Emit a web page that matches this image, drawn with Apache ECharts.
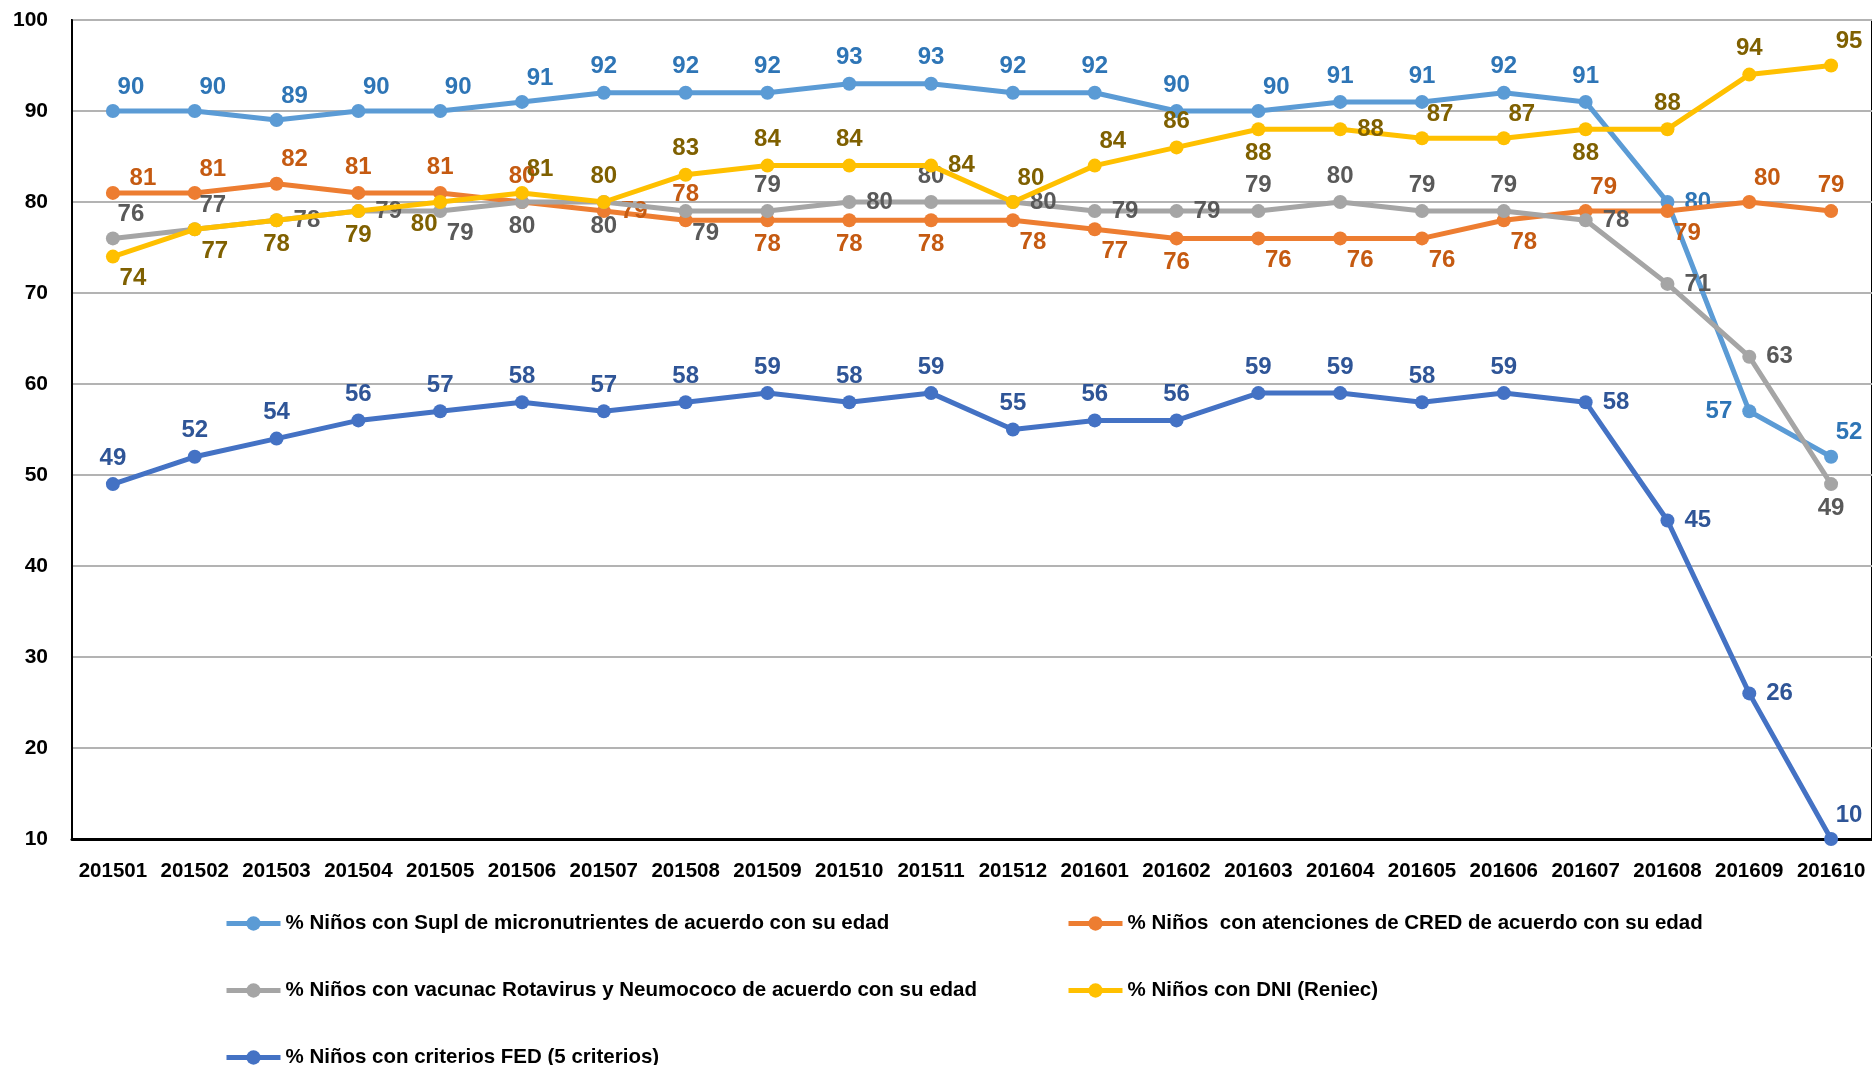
<!DOCTYPE html>
<html>
<head>
<meta charset="utf-8">
<script src="https://cdn.jsdelivr.net/npm/echarts@6/dist/echarts.min.js"></script>
<style>
html,body{margin:0;padding:0;background:#fff;}
#chart{width:1872px;height:1065px;}
</style>
</head>
<body>
<div id="chart"></div>
<script>
const categories = ['201501','201502','201503','201504','201505','201506','201507','201508','201509','201510','201511','201512','201601','201602','201603','201604','201605','201606','201607','201608','201609','201610'];
const seriesNames = [
  '% Niños con Supl de micronutrientes de acuerdo con su edad',
  '% Niños  con atenciones de CRED de acuerdo con su edad',
  '% Niños con vacunac Rotavirus y Neumococo de acuerdo con su edad',
  '% Niños con DNI (Reniec)',
  '% Niños con criterios FED (5 criterios)'
];
const supl    = [90,90,89,90,90,91,92,92,92,93,93,92,92,90,90,91,91,92,91,80,57,52];
const cred    = [81,81,82,81,81,80,79,78,78,78,78,78,77,76,76,76,76,78,79,79,80,79];
const vacunas = [76,77,78,79,79,80,80,79,79,80,80,80,79,79,79,80,79,79,78,71,63,49];
const dni     = [74,77,78,79,80,81,80,83,84,84,84,80,84,86,88,88,87,87,88,88,94,95];
const fed     = [49,52,54,56,57,58,57,58,59,58,59,55,56,56,59,59,58,59,58,45,26,10];
const yMin = 10, yMax = 100, yStep = 10;

// label placement codes (layout only)
const suplPos = ['tr','tr','tr','tr','tr','tr','t','t','t','t','t','t','t','t','tr','t','t','t','t','r','l','tr'];
const credPos = ['TR','tr','tr','t','t','t','r','t','b','b','b','br','br','b','br','br','br','br','tr','br','tr','t'];
const vacPos  = ['tr','tr','r','r','br','b','b','br','t','r','t','r','r','r','t','t','t','t','r','r','r','b'];
const dniPos  = ['br','br','b','b','bl','tr','t','t','t','t','r','tr','tr','t','b','r','tr','tr','b','t','t','tr'];
const fedPos  = ['t','t','t','t','t','t','t','t','t','t','t','t','t','t','t','t','t','t','r','r','r','tr'];

const FONT = "'Liberation Sans',Arial,sans-serif";
const place = {
  t:  {position:'top', distance:7},
  tr: {position:'top', distance:5, offset:[18,0]},
  TR: {position:'top', distance:0, offset:[30,4]},
  r:  {position:'right', distance:10},
  br: {position:'bottom', distance:3, offset:[20,0]},
  b:  {position:'bottom', distance:5},
  bl: {position:'bottom', distance:3, offset:[-16,0]},
  l:  {position:'left', distance:10}
};
const colors = ['#5B9BD5','#ED7D31','#A5A5A5','#FFC000','#4472C4'];
const labelColors = ['#2E75B6','#C55A11','#595959','#7F6000','#2F5597'];
const values = [supl, cred, vacunas, dni, fed];
const positions = [suplPos, credPos, vacPos, dniPos, fedPos];

const series = values.map((vals, s) => ({
  name: seriesNames[s],
  type: 'line',
  symbol: 'circle',
  symbolSize: 14,
  color: colors[s],
  lineStyle: {width: 5, color: colors[s]},
  itemStyle: {color: colors[s]},
  label: {show: true, color: labelColors[s], fontFamily: FONT, fontSize: 24, fontWeight: 'bold'},
  data: vals.map((v, i) => ({value: v, label: place[positions[s][i]]})),
  z: 2 + s
}));

const legendText = {fontFamily: FONT, fontSize: 20.5, fontWeight: 'bold', color: '#000'};
// legend slots: [series index, left, centre y]
const legendSlots = [[0, 219, 918], [1, 1061, 918], [2, 219, 985], [3, 1061, 985], [4, 219, 1052]];
const legends = legendSlots.map(([s, x, y]) => ({
  data: [seriesNames[s]], orient: 'horizontal', left: x, top: y - 10,
  itemWidth: 54, itemHeight: 18, itemGap: 2, textStyle: legendText,
  lineStyle: {width: 5}
}));

const option = {
  animation: false,
  backgroundColor: '#fff',
  grid: {left: 72, right: -2, top: 20, bottom: 226, show: true, borderColor: '#000', borderWidth: 2, containLabel: false},
  xAxis: {
    type: 'category', data: categories, boundaryGap: true,
    axisLine: {lineStyle: {color: '#000', width: 3}},
    axisTick: {show: false},
    axisLabel: {interval: 0, margin: 22, fontFamily: FONT, fontSize: 20.5, fontWeight: 'bold', color: '#000'}
  },
  yAxis: {
    type: 'value', min: yMin, max: yMax, interval: yStep,
    axisLine: {show: true, lineStyle: {color: '#000', width: 2}},
    axisTick: {show: false},
    splitLine: {lineStyle: {color: '#B3B3B3', width: 2}},
    axisLabel: {margin: 24, fontFamily: FONT, fontSize: 21, fontWeight: 'bold', color: '#000'}
  },
  legend: legends,
  series: series
};
const chart = echarts.init(document.getElementById('chart'));
chart.setOption(option);
</script>
</body>
</html>
